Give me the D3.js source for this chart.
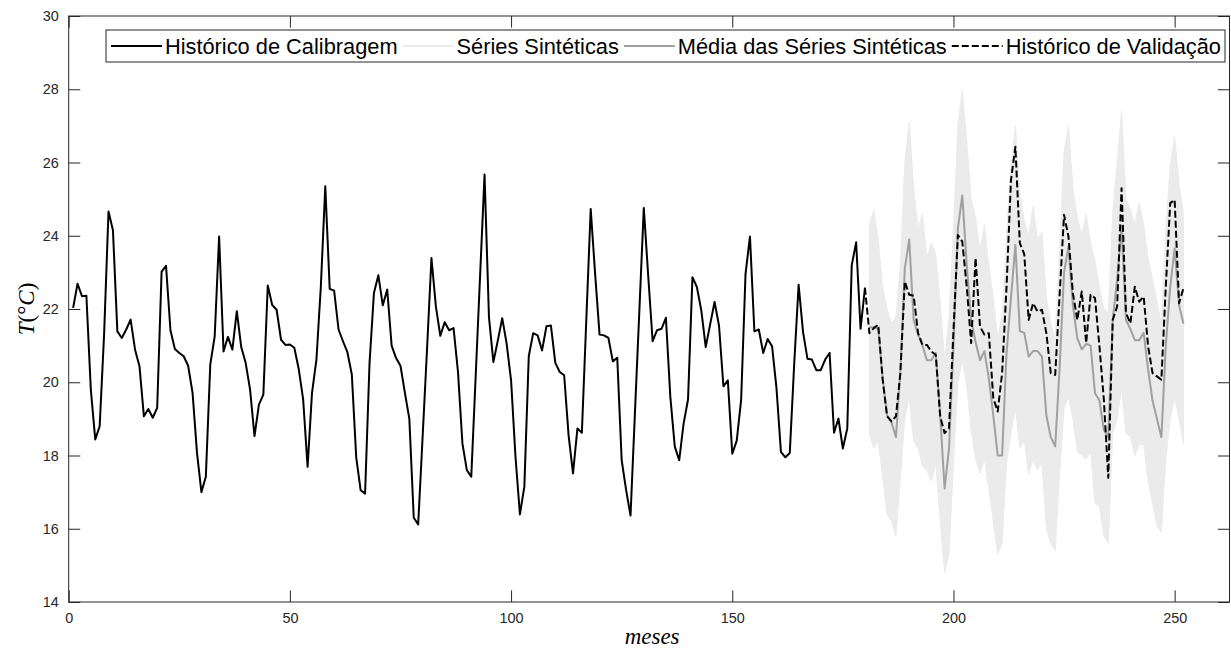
<!DOCTYPE html>
<html>
<head>
<meta charset="utf-8">
<script src="https://cdn.jsdelivr.net/npm/d3@7"></script>
<style>
  body { margin: 0; background: #ffffff; }
  svg { display: block; }
</style>
</head>
<body>
<svg id="chart" width="1231" height="652"></svg>
<script>
// Monthly mean temperature (°C), calibration history: months 1..180
const calibStart = 1;
const calibration = [
  22.03, 22.69, 22.35, 22.36, 19.8, 18.44, 18.8, 21.3, 24.66, 24.15,
  21.39, 21.21, 21.44, 21.71, 20.89, 20.44, 19.07, 19.27, 19.03, 19.3,
  23.02, 23.18, 21.42, 20.91, 20.8, 20.71, 20.45, 19.71, 18.07, 17.0,
  17.42, 20.48, 21.25, 23.98, 20.84, 21.24, 20.89, 21.94, 20.96, 20.53,
  19.8, 18.53, 19.39, 19.66, 22.64, 22.11, 21.98, 21.16, 21.02, 21.03,
  20.94, 20.36, 19.53, 17.69, 19.71, 20.62, 22.62, 25.35, 22.55, 22.5,
  21.44, 21.12, 20.82, 20.21, 17.94, 17.05, 16.96, 20.51, 22.44, 22.92,
  22.1, 22.53, 21.0, 20.66, 20.45, 19.71, 19.0, 16.3, 16.12, 18.5,
  20.9, 23.39, 22.07, 21.27, 21.64, 21.42, 21.48, 20.28, 18.33, 17.6,
  17.42, 20.17, 22.92, 25.67, 21.78, 20.55, 21.14, 21.75, 21.05, 20.05,
  17.96, 16.39, 17.15, 20.71, 21.34, 21.28, 20.87, 21.53, 21.55, 20.53,
  20.28, 20.19, 18.55, 17.51, 18.74, 18.62, 21.69, 24.73, 22.96, 21.3,
  21.28, 21.21, 20.57, 20.67, 17.87, 17.06, 16.36, 19.17, 21.96, 24.76,
  22.9, 21.12, 21.42, 21.46, 21.76, 19.6, 18.25, 17.87, 18.87, 19.53,
  22.87, 22.6, 21.96, 20.96, 21.58, 22.19, 21.55, 19.89, 20.05, 18.05,
  18.4, 19.51, 22.96, 23.98, 21.39, 21.44, 20.8, 21.18, 20.98, 19.83,
  18.1, 17.95, 18.07, 20.5, 22.66, 21.37, 20.64, 20.62, 20.33, 20.33,
  20.62, 20.8, 18.62, 19.01, 18.19, 18.74, 23.19, 23.82, 21.46, 22.58
];

// Synthetic series: envelope (upper / lower) and mean, months 181..252
const synthStart = 181;
const synthUpper = [
  24.3, 24.7, 23.9, 22.6, 22.0, 21.6, 21.8, 23.2, 26.0, 27.1,
  25.3, 24.2, 24.6, 23.4, 23.8, 23.5, 22.2, 20.6, 21.8, 24.2,
  27.0, 28.0, 26.6, 25.0, 24.5, 23.6, 24.3, 23.2, 22.3, 21.2,
  21.8, 24.0, 25.9, 27.0, 25.2, 24.4, 24.0, 24.8, 23.9, 24.1,
  22.3, 21.6, 21.2, 23.6, 26.3, 27.0, 25.3, 24.5, 24.0, 24.6,
  23.8, 23.3, 22.6, 22.0, 21.9, 24.6, 26.0, 27.4, 25.0, 24.7,
  24.3, 24.9, 24.3, 23.4, 22.8, 22.2, 21.6, 24.2, 25.9, 26.7,
  25.4, 24.6
];
const synthLower = [
  18.6, 18.2, 18.4, 17.4, 16.4, 16.2, 15.8, 17.4, 19.0, 19.6,
  18.4, 18.2, 17.7, 17.6, 17.3, 17.8, 16.2, 14.8, 15.3, 17.8,
  20.0, 20.6, 19.9, 18.7, 17.9, 17.5, 17.9, 17.1, 16.2, 15.3,
  15.6, 17.8, 18.6, 19.3, 18.2, 18.4, 17.5, 17.9, 17.6, 17.8,
  16.0, 15.6, 15.4, 17.5, 19.3, 19.6, 19.0, 18.1, 18.0, 17.9,
  18.1, 16.7, 16.6, 15.8, 15.6, 18.6, 19.0, 19.8, 18.6, 18.5,
  18.0, 18.3, 18.3, 17.3, 16.7, 16.1, 15.9, 17.9, 19.0, 19.6,
  19.0, 18.3
];
const meanSynthetic = [
  21.5, 21.5, 21.45, 20.1, 19.1, 18.9, 18.5, 20.3, 23.1, 23.9,
  21.7, 21.3, 21.0, 20.6, 20.6, 20.8, 19.1, 17.1, 18.2, 21.0,
  24.2, 25.1, 23.2, 21.7, 21.1, 20.6, 20.85, 20.1, 19.1, 18.0,
  18.0, 20.8, 22.3, 23.75, 21.4, 21.35, 20.7, 20.85, 20.85, 20.7,
  19.1, 18.5, 18.25, 20.4, 23.0, 23.7, 22.1, 21.2, 20.9, 21.05,
  21.0, 19.7, 19.5, 18.7, 18.5, 21.7, 22.8, 24.25, 21.7, 21.45,
  21.15, 21.15, 21.35, 20.35, 19.5, 19.0, 18.5, 21.0, 22.6, 23.65,
  22.1, 21.6
];

// Validation history, months 180..252 (joined to the last calibration month)
const validationStart = 180;
const validation = [
  22.58,
  21.34, 21.48, 21.57, 20.07, 19.07, 18.93, 19.07, 20.25, 22.75, 22.39,
  22.36, 21.34, 21.02, 21.02, 20.84, 20.75, 19.07, 18.61, 18.75, 21.4,
  24.02, 23.84, 22.61, 21.07, 23.39, 21.52, 21.3, 21.34, 19.57, 19.2,
  20.25, 22.61, 25.52, 26.43, 23.8, 23.5, 21.7, 22.16, 21.93, 21.98,
  21.34, 20.25, 20.2, 22.39, 24.57, 23.98, 22.43, 21.7, 22.48, 21.07,
  22.39, 22.3, 20.98, 19.52, 17.39, 21.7, 22.07, 25.3, 21.89, 21.61,
  22.61, 22.2, 22.34, 20.98, 20.25, 20.16, 20.07, 22.61, 24.89, 24.98,
  22.16, 22.57
];

const xTicks = [0, 50, 100, 150, 200, 250];
const yTicks = [14, 16, 18, 20, 22, 24, 26, 28, 30];
const legendLabels = [
  "Histórico de Calibragem",
  "Séries Sintéticas",
  "Média das Séries Sintéticas",
  "Histórico de Validação"
];

// ---- layout ----
const axisColor = "#262626";
const sansFont = "'Liberation Sans', Arial, Helvetica, sans-serif";
const serifFont = "'Liberation Serif', 'Times New Roman', serif";
const plotLeft = 68.7, plotRight = 1229.5, plotTop = 16, plotBottom = 602;
const tickLen = 11.6;

const svg = d3.select("#chart");

const x = d3.scaleLinear().domain([0, 262.4]).range([plotLeft, plotRight]);
const y = d3.scaleLinear().domain([14, 30]).range([plotBottom, plotTop]);

const toPoints = (vals, start) => vals.map((v, i) => ({ m: start + i, v }));
const calibPts = toPoints(calibration, calibStart);
const meanPts = toPoints(meanSynthetic, synthStart);
const valPts = toPoints(validation, validationStart);
const bandPts = synthUpper.map((u, i) => ({ m: synthStart + i, hi: u, lo: synthLower[i] }));

const line = d3.line().x(d => x(d.m)).y(d => y(d.v));

// synthetic series envelope
svg.append("path")
  .datum(bandPts)
  .attr("d", d3.area().x(d => x(d.m)).y0(d => y(d.lo)).y1(d => y(d.hi)))
  .attr("fill", "#ebebeb")
  .attr("stroke", "#ebebeb")
  .attr("stroke-width", 1);

// calibration history
svg.append("path")
  .datum(calibPts)
  .attr("d", line)
  .attr("fill", "none")
  .attr("stroke", "#000")
  .attr("stroke-width", 2)
  .attr("stroke-linejoin", "round");

// mean of synthetic series
svg.append("path")
  .datum(meanPts)
  .attr("d", line)
  .attr("fill", "none")
  .attr("stroke", "#a0a0a0")
  .attr("stroke-width", 2)
  .attr("stroke-linejoin", "round");

// validation history
svg.append("path")
  .datum(valPts)
  .attr("d", line)
  .attr("fill", "none")
  .attr("stroke", "#000")
  .attr("stroke-width", 2)
  .attr("stroke-dasharray", "7,3")
  .attr("stroke-linejoin", "round");

// ---- axes (box with inward ticks on all four sides) ----
function styleAxis(g) {
  g.select(".domain").remove();
  g.selectAll(".tick line").attr("stroke", axisColor).attr("stroke-width", 1);
  g.selectAll(".tick text")
    .attr("fill", axisColor)
    .style("font-family", sansFont)
    .style("font-size", "14.4px");
}

svg.append("g")
  .attr("transform", `translate(0,${plotBottom})`)
  .call(d3.axisBottom(x).tickValues(xTicks).tickSizeInner(-tickLen).tickSizeOuter(0).tickPadding(11))
  .call(styleAxis);

svg.append("g")
  .attr("transform", `translate(0,${plotTop})`)
  .call(d3.axisTop(x).tickValues(xTicks).tickSizeInner(-tickLen).tickSizeOuter(0).tickFormat(""))
  .call(styleAxis);

svg.append("g")
  .attr("transform", `translate(${plotLeft},0)`)
  .call(d3.axisLeft(y).tickValues(yTicks).tickSizeInner(-tickLen).tickSizeOuter(0).tickPadding(10))
  .call(styleAxis);

svg.append("g")
  .attr("transform", `translate(${plotRight},0)`)
  .call(d3.axisRight(y).tickValues(yTicks).tickSizeInner(-tickLen).tickSizeOuter(0).tickFormat(""))
  .call(styleAxis);

svg.append("rect")
  .attr("x", plotLeft).attr("y", plotTop)
  .attr("width", plotRight - plotLeft).attr("height", plotBottom - plotTop)
  .attr("fill", "none")
  .attr("stroke", axisColor)
  .attr("stroke-width", 1);

// axis labels
svg.append("text")
  .attr("x", (plotLeft + plotRight) / 2 + 3)
  .attr("y", 644)
  .attr("text-anchor", "middle")
  .style("font-family", serifFont)
  .style("font-style", "italic")
  .style("font-size", "23px")
  .attr("fill", "#000")
  .text("meses");

const yLab = svg.append("text")
  .attr("transform", `translate(34,${(plotTop + plotBottom) / 2}) rotate(-90)`)
  .attr("text-anchor", "middle")
  .style("font-family", serifFont)
  .style("font-size", "23px")
  .attr("fill", "#000");
yLab.append("tspan").style("font-style", "italic").text("T");
yLab.append("tspan").text("(°");
yLab.append("tspan").style("font-style", "italic").text("C");
yLab.append("tspan").text(")");

// ---- legend ----
const legX = 106, legY = 30, legW = 1119, legH = 32;
const leg = svg.append("g").attr("transform", `translate(${legX},${legY})`);
leg.append("rect")
  .attr("width", legW).attr("height", legH)
  .attr("fill", "#fff")
  .attr("stroke", axisColor)
  .attr("stroke-width", 1);

const legendStyles = [
  { stroke: "#000", dash: null },
  { stroke: "#ebebeb", dash: null },
  { stroke: "#a0a0a0", dash: null },
  { stroke: "#000", dash: "7,3" }
];

const texts = legendLabels.map(lbl =>
  leg.append("text")
    .attr("y", legH / 2 + 7.8)
    .style("font-family", sansFont)
    .style("font-size", "21.8px")
    .attr("fill", "#000")
    .text(lbl)
);
const widths = texts.map(t => t.node().getComputedTextLength());
const padBefore = 5, padAfter = 3, endPad = 4;
const lineLen = (legW - d3.sum(widths) - legendLabels.length * (padBefore + padAfter) - endPad) / legendLabels.length;

let cursor = 0;
legendLabels.forEach((lbl, i) => {
  const x0 = cursor + padBefore;
  const x1 = x0 + lineLen;
  const st = legendStyles[i];
  const ln = leg.append("line")
    .attr("x1", x0).attr("x2", x1)
    .attr("y1", legH / 2).attr("y2", legH / 2)
    .attr("stroke", st.stroke)
    .attr("stroke-width", 2);
  if (st.dash) ln.attr("stroke-dasharray", st.dash);
  texts[i].attr("x", x1 + padAfter);
  cursor = x1 + padAfter + widths[i];
});
</script>
</body>
</html>
